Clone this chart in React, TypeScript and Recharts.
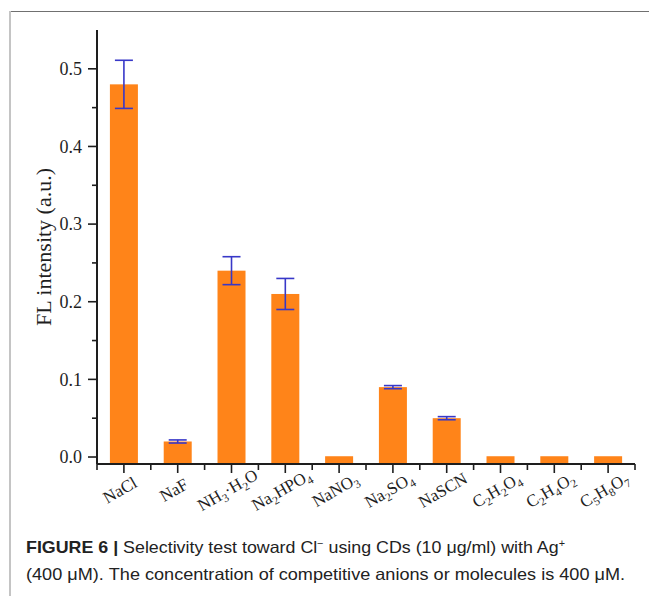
import React from "react";
import {
  BarChart,
  Bar,
  XAxis,
  YAxis,
  ErrorBar,
  Label,
} from "recharts";

const categories = [
  "NaCl",
  "NaF",
  "NH3·H2O",
  "Na2HPO4",
  "NaNO3",
  "Na2SO4",
  "NaSCN",
  "C2H2O4",
  "C2H4O2",
  "C5H8O7",
];
const intensity = [0.48, 0.02, 0.24, 0.21, 0.001, 0.09, 0.05, 0.001, 0.001, 0.001];
const errors: (number | null)[] = [0.031, 0.002, 0.018, 0.02, null, 0.002, 0.002, null, null, null];
const yTicks = [0, 0.05, 0.1, 0.15, 0.2, 0.25, 0.3, 0.35, 0.4, 0.45, 0.5];
const yMajor = [0, 0.1, 0.2, 0.3, 0.4, 0.5];

const data = categories.map((name, i) => ({
  name,
  value: intensity[i],
  err: errors[i],
}));

const BAR = "#ff8419";
const ERR = "#3838c8";
const INK = "#1e1e1e";
const SERIF = "'Liberation Serif', 'Times New Roman', serif";
const SANS = "'Liberation Sans', Arial, sans-serif";

// chemical formulas: every digit is a subscript
function Formula({ text }: { text: string }) {
  const parts = text.match(/\d+|\D+/g) || [];
  return (
    <>
      {parts.map((p, i) =>
        /\d/.test(p) ? (
          <tspan key={i} fontSize={11.5} dy={4}>
            {p}
          </tspan>
        ) : (
          <tspan key={i} dy={i > 0 && /\d/.test(parts[i - 1]) ? -4 : 0}>
            {p}
          </tspan>
        )
      )}
    </>
  );
}

function XTick(props: any) {
  const { x, y, payload, index, visibleTicksCount } = props;
  const off = payload.offset ?? 0;
  const last = index === visibleTicksCount - 1;
  return (
    <g>
      <line x1={x} y1={y} x2={x} y2={y + 9} stroke={INK} strokeWidth={1.6} />
      {off > 0 && (
        <line x1={x - off} y1={y} x2={x - off} y2={y + 6} stroke={INK} strokeWidth={1.6} />
      )}
      {off > 0 && last && (
        <line x1={x + off} y1={y} x2={x + off} y2={y + 6} stroke={INK} strokeWidth={1.6} />
      )}
      <g transform={`translate(${x - 1},${y + 31})`}>
        <text
          transform="rotate(-30)"
          textAnchor="middle"
          dy="0.35em"
          fontFamily={SERIF}
          fontSize={17}
          fill={INK}
        >
          <Formula text={payload.value} />
        </text>
      </g>
    </g>
  );
}

function YTick(props: any) {
  const { x, y, payload } = props;
  const major = yMajor.some((v) => Math.abs(v - payload.value) < 1e-9);
  return (
    <g>
      <line x1={x - (major ? 9 : 5)} y1={y} x2={x} y2={y} stroke={INK} strokeWidth={1.6} />
      {major && (
        <text
          x={x - 15}
          y={y}
          dy="0.35em"
          textAnchor="end"
          fontFamily={SERIF}
          fontSize={18}
          fill={INK}
        >
          {payload.value.toFixed(1)}
        </text>
      )}
    </g>
  );
}

// bars in the original are drawn up from the bottom of the frame
function BarShape(props: any) {
  const { x, y, width, height, background } = props;
  const bottom = background ? background.y + background.height : y + height;
  return <rect x={x} y={y} width={width} height={Math.max(bottom - y, 0)} fill={BAR} />;
}

export default function App() {
  return (
    <div
      style={{
        position: "absolute",
        left: 0,
        top: 0,
        width: 649,
        height: 596,
        background: "#fff",
        overflow: "hidden",
      }}
    >
      <div style={{ position: "absolute", left: 10, top: 11, width: 639, height: 1, background: "#707070" }} />
      <div style={{ position: "absolute", left: 9, top: 11, width: 2, height: 585, background: "#c4c4c4" }} />
      <div style={{ position: "absolute", left: 0, top: 0 }}>
        <BarChart
          width={649}
          height={596}
          data={data}
          margin={{ top: 30, right: 14, bottom: 72, left: 0 }}
          barCategoryGap="24%"
        >
          <XAxis
            dataKey="name"
            type="category"
            height={60}
            axisLine={{ stroke: INK, strokeWidth: 2 }}
            tickLine={false}
            tickSize={0}
            tickMargin={0}
            interval={0}
            tick={<XTick />}
          />
          <XAxis
            xAxisId="top"
            dataKey="name"
            orientation="top"
            height={0}
            axisLine={{ stroke: INK, strokeWidth: 2 }}
            tick={false}
            tickLine={false}
          />
          <YAxis
            type="number"
            domain={[-0.009, 0.55]}
            ticks={yTicks}
            width={97}
            axisLine={{ stroke: INK, strokeWidth: 2 }}
            tickLine={false}
            tickSize={0}
            tickMargin={0}
            interval={0}
            tick={<YTick />}
          >
            <Label
              content={(p: any) => {
                const vb = p.viewBox || { x: 0, y: 30, width: 97, height: 434 };
                const cx = vb.x + 43;
                const cy = vb.y + vb.height / 2;
                return (
                  <text
                    x={cx}
                    y={cy}
                    transform={`rotate(-90, ${cx}, ${cy})`}
                    textAnchor="middle"
                    dominantBaseline="central"
                    fontFamily={SERIF}
                    fontSize={22}
                    fill={INK}
                  >
                    FL intensity (a.u.)
                  </text>
                );
              }}
            />
          </YAxis>
          <YAxis
            yAxisId="right"
            orientation="right"
            type="number"
            domain={[-0.009, 0.55]}
            width={0}
            axisLine={{ stroke: INK, strokeWidth: 2 }}
            tick={false}
            tickLine={false}
          />
          <Bar dataKey="value" isAnimationActive={false} shape={<BarShape />}>
            <ErrorBar dataKey="err" width={9} stroke={ERR} strokeWidth={1.6} />
          </Bar>
        </BarChart>
      </div>
      <svg
        width={649}
        height={66}
        style={{ position: "absolute", left: 0, top: 530 }}
      >
        <text x={26} y={23} fontFamily={SANS} fontSize={16.5} fill="#222" textLength={539} lengthAdjust="spacingAndGlyphs">
          <tspan fontWeight="bold">FIGURE 6 | </tspan>
          <tspan>Selectivity test toward Cl</tspan>
          <tspan fontSize={10} dy={-6}>−</tspan>
          <tspan dy={6}> using CDs (10 μg/ml) with Ag</tspan>
          <tspan fontSize={10} dy={-6}>+</tspan>
        </text>
        <text x={26} y={50} fontFamily={SANS} fontSize={16.5} fill="#222" textLength={599} lengthAdjust="spacingAndGlyphs">
          (400 μM). The concentration of competitive anions or molecules is 400 μM.
        </text>
      </svg>
    </div>
  );
}
